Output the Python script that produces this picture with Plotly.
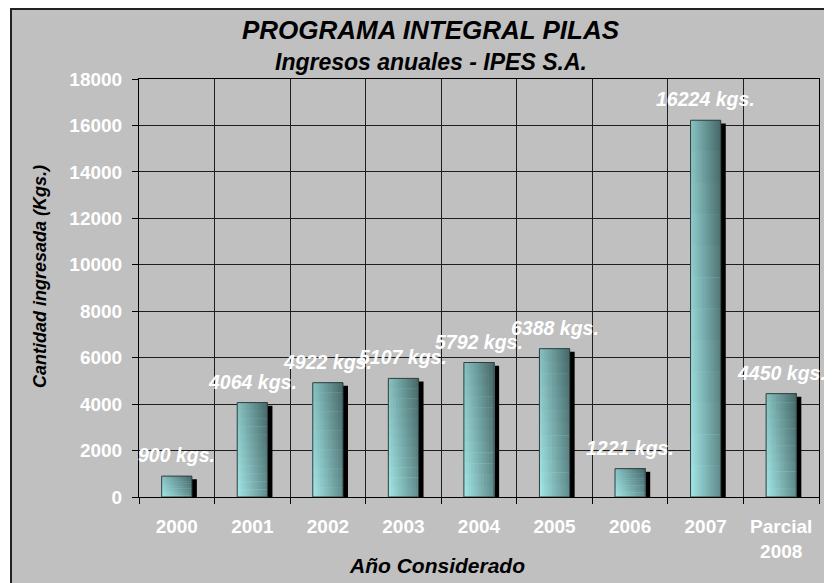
import numpy as np
import plotly.graph_objects as go

categories = ["2000", "2001", "2002", "2003", "2004", "2005", "2006", "2007", "Parcial<br>2008"]
values = [900, 4064, 4922, 5107, 5792, 6388, 1221, 16224, 4450]
value_labels = [f"{v} kgs." for v in values]
y_ticks = list(range(0, 18001, 2000))
y_tick_text = [str(v) for v in y_ticks]

FONT = "Liberation Sans, Arial, sans-serif"
BAR_W = 0.40
NX, NY = 12, 12
LIGHT = np.array([0xa0, 0xe2, 0xe2])
DARK = np.array([0x4a, 0x6c, 0x6c])

x = np.arange(len(categories))
vals = np.array(values, dtype=float)

fig = go.Figure()

# shadow
fig.add_trace(go.Bar(x=x, y=vals - 0.0075 * 18000, offset=-BAR_W / 2 + 0.066, width=BAR_W,
                     marker=dict(color="black", line=dict(width=0)), hoverinfo="skip", showlegend=False))

# gradient body: each layer extends to the bar's top-right corner so no seams appear
for j in range(NY):
    for i in range(NX):
        t = 0.7 * i / (NX - 1) + 0.3 * j / (NY - 1)
        c = LIGHT + (DARK - LIGHT) * t
        col = "rgb(%d,%d,%d)" % tuple(c.astype(int))
        fig.add_trace(go.Bar(x=x, y=vals * (1 - j / NY), base=vals * j / NY,
                             offset=-BAR_W / 2 + i * BAR_W / NX, width=BAR_W * (1 - i / NX),
                             marker=dict(color=col, line=dict(width=0)),
                             hoverinfo="skip", showlegend=False))

# outline
fig.add_trace(go.Bar(x=x, y=vals, offset=-BAR_W / 2, width=BAR_W,
                     marker=dict(color="rgba(0,0,0,0)", line=dict(color="#2f3f3f", width=1)),
                     hoverinfo="skip", showlegend=False))

for xi, v, lab in zip(x, values, value_labels):
    fig.add_annotation(x=xi, y=v, text=f"<b><i>{lab}</i></b>", showarrow=False,
                       yshift=21, yanchor="middle",
                       font=dict(family=FONT, size=19.5, color="white"))

# plot area in screen px: x 139..819, y 79..497 (page body adds an 8px offset)
def px(xp):
    return (xp - 139) / 680
def py(yp):
    return (497 - yp) / 418

fig.add_shape(type="rect", xref="paper", yref="paper", x0=px(11), x1=px(900), y0=py(700), y1=py(9),
              line=dict(color="#222222", width=2), fillcolor="#c0c0c0", layer="below")

fig.add_annotation(xref="paper", yref="paper", x=px(431), y=py(30), text="<b><i>PROGRAMA INTEGRAL PILAS</i></b>",
                   showarrow=False, xanchor="center", yanchor="middle",
                   font=dict(family=FONT, size=26, color="black"))
fig.add_annotation(xref="paper", yref="paper", x=px(431), y=py(62), text="<b><i>Ingresos anuales - IPES S.A.</i></b>",
                   showarrow=False, xanchor="center", yanchor="middle",
                   font=dict(family=FONT, size=23, color="black"))
fig.add_annotation(xref="paper", yref="paper", x=px(437), y=py(565), text="<b><i>Año Considerado</i></b>",
                   showarrow=False, xanchor="center", yanchor="middle",
                   font=dict(family=FONT, size=21, color="black"))
fig.add_annotation(xref="paper", yref="paper", x=px(40), y=py(277), text="<b><i>Cantidad ingresada (Kgs.)</i></b>",
                   showarrow=False, xanchor="center", yanchor="middle", textangle=-90,
                   font=dict(family=FONT, size=18, color="black"))

GRID = "#1e1e1e"
fig.update_layout(
    width=824, height=575,
    margin=dict(l=131, r=13, t=71, b=86),
    paper_bgcolor="white", plot_bgcolor="#969696",
    barmode="overlay", showlegend=False,
    xaxis=dict(range=[-0.5, len(categories) - 0.5], tickmode="array", tickvals=x, ticktext=categories,
               ticks="", showgrid=False, zeroline=False, showline=True, linecolor="black", linewidth=1,
               mirror=True, ticklabelstandoff=12,
               tickfont=dict(family=FONT, size=19, color="white", weight="bold"),
               minor=dict(tickmode="array", tickvals=list(np.arange(len(categories) + 1) - 0.5),
                          showgrid=True, gridcolor=GRID, gridwidth=1, ticks="outside", ticklen=6,
                          tickcolor="black")),
    yaxis=dict(range=[0, 18000], tickmode="array", tickvals=y_ticks, ticktext=y_tick_text,
               showgrid=True, gridcolor=GRID,
               gridwidth=1, zeroline=False, showline=True, linecolor="black", linewidth=1, mirror=True,
               ticks="outside", ticklen=6, tickcolor="black", ticklabelstandoff=6,
               tickfont=dict(family=FONT, size=19, color="white", weight="bold")),
)

fig.write_html("out.html")
